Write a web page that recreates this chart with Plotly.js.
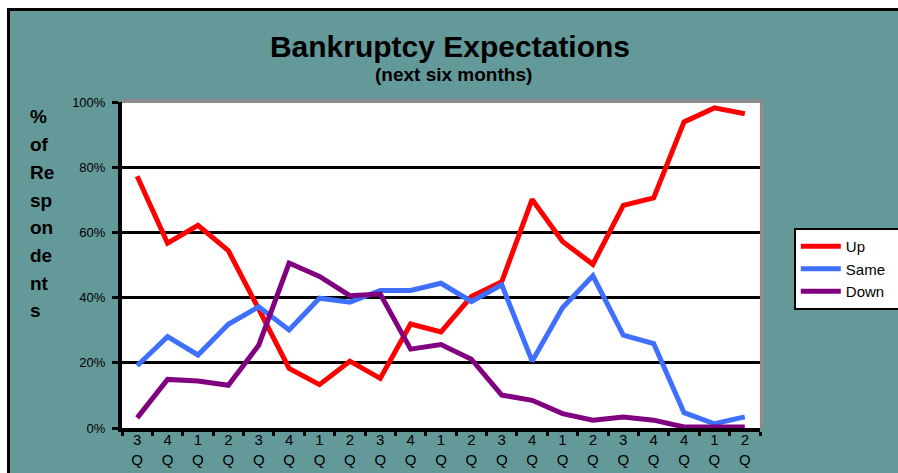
<!DOCTYPE html>
<html>
<head>
<meta charset="utf-8">
<script src="https://cdn.plot.ly/plotly-3.0.1.min.js"></script>
<style>
  html, body { margin:0; padding:0; background:#ffffff; width:898px; height:473px; overflow:hidden; }
  #frame { position:absolute; left:7px; top:8px; width:891px; height:465px; border-left:3px solid #000; border-top:3px solid #000; background:#639a99; overflow:hidden; }
  #chart { width:888px; height:462px; }
</style>
</head>
<body>
<div id="frame"><div id="chart"></div></div>
<script>
const quarters = ["3<br>Q<br>00","4<br>Q<br>00","1<br>Q<br>01","2<br>Q<br>01","3<br>Q<br>01","4<br>Q<br>01","1<br>Q<br>02","2<br>Q<br>02","3<br>Q<br>02","4<br>Q<br>02","1<br>Q<br>03","2<br>Q<br>03","3<br>Q<br>03","4<br>Q<br>03","1<br>Q<br>04","2<br>Q<br>04","3<br>Q<br>04","4<br>Q<br>04","4<br>Q<br>05","1<br>Q<br>06","2<br>Q<br>06"];
const up   = [77.2,56.7,62.2,54.4,36.5,18.3,13.3,20.5,15.2,31.9,29.5,40.3,44.9,70.1,57.2,50.2,68.3,70.6,93.9,98.2,96.4];
const same = [19.1,28.0,22.4,31.8,37.2,30.1,39.8,38.6,42.2,42.2,44.4,38.8,43.9,20.5,36.9,46.7,28.5,25.9,4.7,1.3,3.4];
const down = [3.1,14.9,14.4,13.1,25.4,50.6,46.5,40.6,41.1,24.2,25.6,21.1,10.1,8.5,4.4,2.4,3.4,2.4,0.3,0.3,0.3];
const seriesNames = ["Up","Same","Down"];
const yTitleLines = ["%","of","Re","sp","on","de","nt","s"];

const colors = ["#ff0000","#3f6fff","#800080"];
const pad = "&nbsp;&nbsp;";
const data = [up, same, down].map((vals, i) => ({
  type:"scatter", mode:"lines", name:seriesNames[i] + pad,
  x: quarters, y: vals.map(v => v/100),
  line:{color:colors[i], width:5}
}));

const annotations = yTitleLines.map((t, i) => ({
  text:"<b>"+t+"</b>", xref:"paper", yref:"paper",
  x:-0.147, xanchor:"left", y:1 - (106 + i*27.7 - 91)/326, yanchor:"middle",
  showarrow:false, font:{family:"Liberation Sans, Arial, sans-serif", size:19, color:"#000"}
}));
annotations.push({
  text:"<b>(next six months)</b>", xref:"paper", yref:"paper",
  x:(443-112)/638, xanchor:"center", y:1 + (91-63)/326, yanchor:"middle",
  showarrow:false, font:{family:"Liberation Sans, Arial, sans-serif", size:19, color:"#000"}
});

const layout = {
  width:888, height:462,
  margin:{l:112, r:138, t:91, b:45, pad:0, autoexpand:false},
  paper_bgcolor:"rgba(0,0,0,0)",
  plot_bgcolor:"#ffffff",
  title:{text:"<b>Bankruptcy Expectations</b>", xref:"container", yref:"container",
    x:440/888, xanchor:"center", y:1-35/462, yanchor:"middle",
    font:{family:"Liberation Sans, Arial, sans-serif", size:30, color:"#000"}},
  showlegend:true,
  legend:{x:1.053, xanchor:"left", y:0.6135, yanchor:"top", bgcolor:"#ffffff",
    bordercolor:"#000", borderwidth:2, tracegroupgap:0, itemwidth:40,
    font:{family:"Liberation Sans, Arial, sans-serif", size:15, color:"#000"}},
  xaxis:{type:"category", range:[-0.5, 20.5], tickson:"boundaries", ticks:"outside", ticklen:4, tickwidth:3, tickcolor:"#000",
    showline:true, linecolor:"#000", linewidth:4, showgrid:false, zeroline:false, fixedrange:true,
    tickfont:{family:"Liberation Sans, Arial, sans-serif", size:15, color:"#000"}, tickangle:0,
    ticklabelstandoff:-5},
  yaxis:{range:[0,1], dtick:0.2, tickformat:".0%", ticks:"outside", ticklen:6, tickwidth:3, tickcolor:"#000",
    showline:true, linecolor:"#000", linewidth:4, showgrid:true, gridcolor:"#000", gridwidth:3, zeroline:false,
    tickfont:{family:"Liberation Sans Narrow, Arial Narrow, Liberation Sans, Arial, sans-serif", size:13, color:"#000"},
    ticklabelstandoff:4},
  shapes:[
    {type:"line", xref:"paper", yref:"paper", x0:0, x1:1.004, y0:1.003, y1:1.003, line:{color:"#8c8c8c", width:4}},
    {type:"line", xref:"paper", yref:"paper", x0:1.003, x1:1.003, y0:0, y1:1.005, line:{color:"#8c8c8c", width:4}}
  ],
  annotations: annotations
};

Plotly.newPlot("chart", data, layout, {displayModeBar:false, staticPlot:true});
</script>
</body>
</html>
